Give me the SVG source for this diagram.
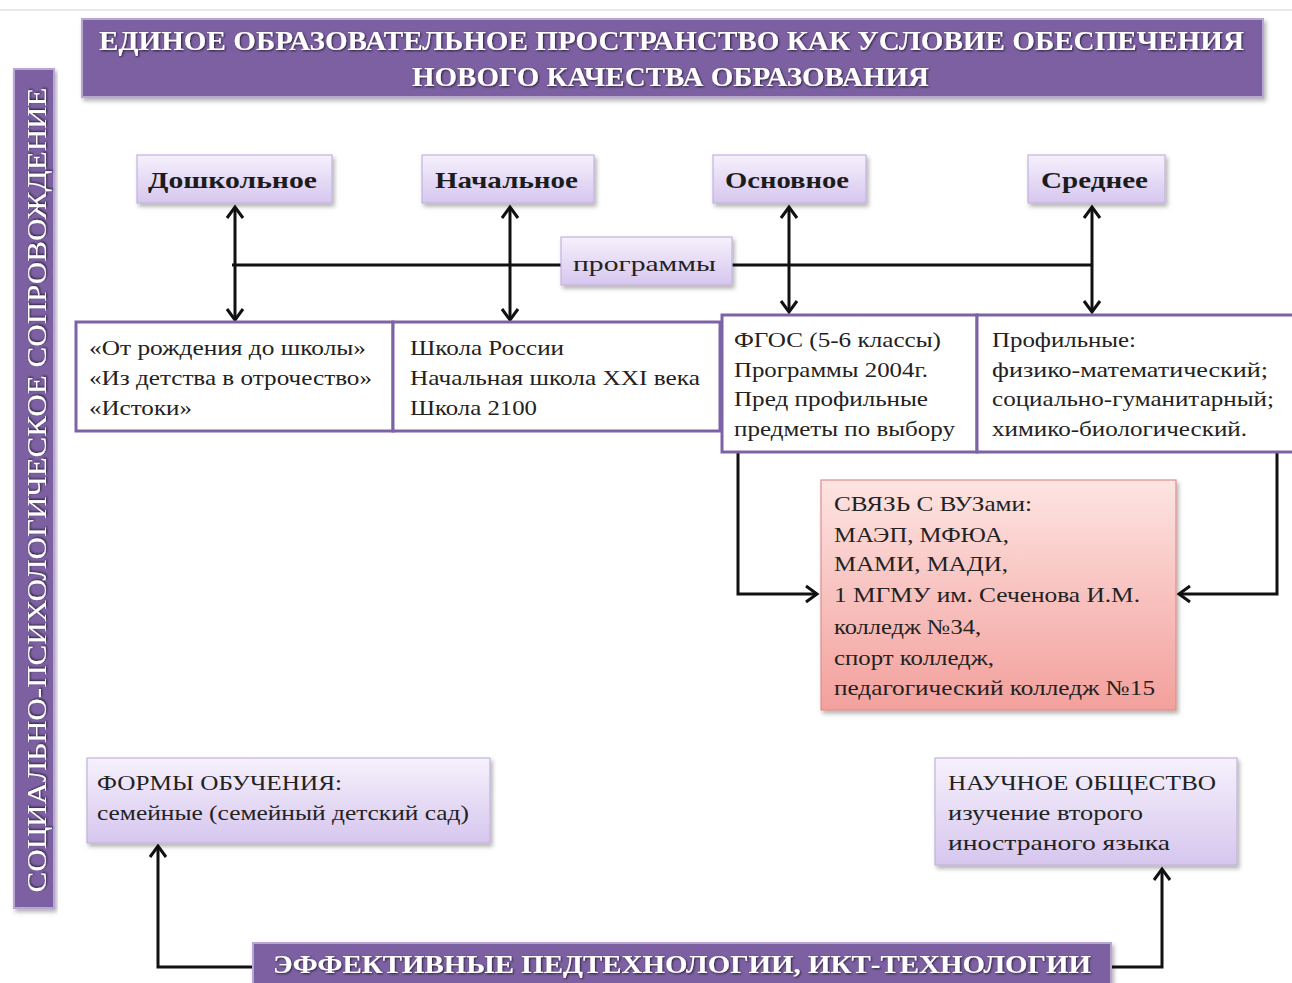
<svg xmlns="http://www.w3.org/2000/svg" width="1292" height="983" viewBox="0 0 1292 983">
<defs>
<style>
.t{font-family:"Liberation Serif","Times New Roman",serif;fill:#222;font-size:21px}
.b{font-weight:bold;font-size:24px;fill:#1c1c1c}
.w{font-family:"Liberation Serif","Times New Roman",serif;fill:#fff;font-weight:bold}
.wn{font-family:"Liberation Serif","Times New Roman",serif;fill:#fff;font-weight:normal}
.prog{fill:#fff;stroke:#7c63a6;stroke-width:3}
.lav{fill:url(#gLav);stroke:#c3b3dc;stroke-width:1.2}
.pur{fill:#7c60a2;stroke:#b8a6d6;stroke-width:2}
.ln{fill:none;stroke:#111;stroke-width:3}
</style>
<linearGradient id="gLav" x1="0" y1="0" x2="0" y2="1"><stop offset="0" stop-color="#f6f1fc"/><stop offset="1" stop-color="#d6c6ee"/></linearGradient>
<linearGradient id="gRed" x1="0" y1="0" x2="0" y2="1"><stop offset="0" stop-color="#fde4e2"/><stop offset="1" stop-color="#f3a09c"/></linearGradient>
<filter id="sh" x="-10%" y="-10%" width="120%" height="130%"><feDropShadow dx="2" dy="3" stdDeviation="2" flood-color="#000" flood-opacity="0.3"/></filter>
<filter id="tsh" x="-5%" y="-20%" width="110%" height="140%"><feDropShadow dx="1" dy="1" stdDeviation="0.8" flood-color="#000" flood-opacity="0.7"/></filter>
<marker id="ah" viewBox="-14 -10 17 20" refX="0" refY="0" markerWidth="17" markerHeight="20" markerUnits="userSpaceOnUse" orient="auto-start-reverse"><path d="M-11,-8 L0,0 L-11,8" fill="none" stroke="#111" stroke-width="3"/></marker>
</defs>
<rect width="1292" height="983" fill="#fff"/>
<line x1="0" y1="10" x2="1292" y2="10" stroke="#e2e2e2" stroke-width="1.5"/>

<g id="connectors">
<path class="ln" d="M232,265 L1092,265"/>
<path class="ln" d="M235,207 L235,320" marker-start="url(#ah)" marker-end="url(#ah)"/>
<path class="ln" d="M510,207 L510,320" marker-start="url(#ah)" marker-end="url(#ah)"/>
<path class="ln" d="M789,207 L789,312" marker-start="url(#ah)" marker-end="url(#ah)"/>
<path class="ln" d="M1092,207 L1092,312" marker-start="url(#ah)" marker-end="url(#ah)"/>
<path class="ln" d="M738,452 L738,594 L817,594" marker-end="url(#ah)"/>
<path class="ln" d="M1277,452 L1277,594 L1179,594" marker-end="url(#ah)"/>
<path class="ln" d="M253,967 L158,967 L158,846" marker-end="url(#ah)"/>
<path class="ln" d="M1111,967 L1162,967 L1162,869" marker-end="url(#ah)"/>
</g>

<g id="title">
<rect class="pur" x="82" y="19" width="1181" height="78" filter="url(#sh)"/>
<text class="w" x="99" y="50" font-size="27" textLength="1145" lengthAdjust="spacingAndGlyphs" filter="url(#tsh)">ЕДИНОЕ ОБРАЗОВАТЕЛЬНОЕ ПРОСТРАНСТВО КАК УСЛОВИЕ ОБЕСПЕЧЕНИЯ</text>
<text class="w" x="412" y="86" font-size="27" textLength="517" lengthAdjust="spacingAndGlyphs" filter="url(#tsh)">НОВОГО КАЧЕСТВА ОБРАЗОВАНИЯ</text>
</g>

<g id="side">
<rect class="pur" x="14" y="69" width="40" height="839" filter="url(#sh)"/>
<text class="wn" transform="translate(46,490) rotate(-90)" x="0" y="0" text-anchor="middle" font-size="28" textLength="805" lengthAdjust="spacingAndGlyphs" filter="url(#tsh)">СОЦИАЛЬНО-ПСИХОЛОГИЧЕСКОЕ  СОПРОВОЖДЕНИЕ</text>
</g>

<g id="lvl-doshk"><rect class="lav" x="137" y="155" width="195" height="48" filter="url(#sh)"/><text class="t b" x="148" y="188" textLength="169" lengthAdjust="spacingAndGlyphs">Дошкольное</text></g>
<g id="lvl-nach"><rect class="lav" x="422" y="155" width="172" height="48" filter="url(#sh)"/><text class="t b" x="435" y="188" textLength="143" lengthAdjust="spacingAndGlyphs">Начальное</text></g>
<g id="lvl-osn"><rect class="lav" x="713" y="155" width="153" height="48" filter="url(#sh)"/><text class="t b" x="725" y="188" textLength="124" lengthAdjust="spacingAndGlyphs">Основное</text></g>
<g id="lvl-sred"><rect class="lav" x="1028" y="155" width="137" height="48" filter="url(#sh)"/><text class="t b" x="1041" y="188" textLength="107" lengthAdjust="spacingAndGlyphs">Среднее</text></g>

<g id="programmy"><rect class="lav" x="561" y="237" width="171" height="48" filter="url(#sh)"/><text class="t" x="573" y="271" font-size="23" textLength="143" lengthAdjust="spacingAndGlyphs">программы</text></g>

<g id="prog1"><rect class="prog" x="76" y="322" width="317" height="109"/>
<text class="t" x="89" y="355" textLength="277" lengthAdjust="spacingAndGlyphs">«От рождения до школы»</text>
<text class="t" x="89" y="385" textLength="283" lengthAdjust="spacingAndGlyphs">«Из детства в отрочество»</text>
<text class="t" x="89" y="415" textLength="103" lengthAdjust="spacingAndGlyphs">«Истоки»</text></g>

<g id="prog2"><rect class="prog" x="393" y="322" width="327" height="109"/>
<text class="t" x="410" y="355" textLength="154" lengthAdjust="spacingAndGlyphs">Школа России</text>
<text class="t" x="410" y="385" textLength="290" lengthAdjust="spacingAndGlyphs">Начальная школа XXI века</text>
<text class="t" x="410" y="415" textLength="127" lengthAdjust="spacingAndGlyphs">Школа 2100</text></g>

<g id="prog3"><rect class="prog" x="722" y="315" width="255" height="137"/>
<text class="t" x="734" y="347" textLength="207" lengthAdjust="spacingAndGlyphs">ФГОС (5-6 классы)</text>
<text class="t" x="734" y="377" textLength="194" lengthAdjust="spacingAndGlyphs">Программы  2004г.</text>
<text class="t" x="734" y="406" textLength="194" lengthAdjust="spacingAndGlyphs">Пред профильные</text>
<text class="t" x="734" y="436" textLength="221" lengthAdjust="spacingAndGlyphs">предметы по выбору</text></g>

<g id="prog4"><rect class="prog" x="977" y="315" width="318" height="137"/>
<text class="t" x="992" y="347" textLength="144" lengthAdjust="spacingAndGlyphs">Профильные:</text>
<text class="t" x="992" y="377" textLength="276" lengthAdjust="spacingAndGlyphs">физико-математический;</text>
<text class="t" x="992" y="406" textLength="282" lengthAdjust="spacingAndGlyphs">социально-гуманитарный;</text>
<text class="t" x="992" y="436" textLength="255" lengthAdjust="spacingAndGlyphs">химико-биологический.</text></g>

<g id="vuz"><rect x="821" y="480" width="355" height="230" fill="url(#gRed)" stroke="#dc8f8b" stroke-width="1.2" filter="url(#sh)"/>
<text class="t" x="834" y="511" textLength="198" lengthAdjust="spacingAndGlyphs">СВЯЗЬ С ВУЗами:</text>
<text class="t" x="834" y="542" textLength="175" lengthAdjust="spacingAndGlyphs">МАЭП, МФЮА,</text>
<text class="t" x="834" y="571" textLength="174" lengthAdjust="spacingAndGlyphs">МАМИ, МАДИ,</text>
<text class="t" x="834" y="602" textLength="306" lengthAdjust="spacingAndGlyphs">1 МГМУ им. Сеченова И.М.</text>
<text class="t" x="834" y="634" textLength="147" lengthAdjust="spacingAndGlyphs">колледж №34,</text>
<text class="t" x="834" y="665" textLength="160" lengthAdjust="spacingAndGlyphs">спорт колледж,</text>
<text class="t" x="834" y="695" textLength="321" lengthAdjust="spacingAndGlyphs">педагогический колледж №15</text></g>

<g id="formy"><rect class="lav" x="87" y="758" width="403" height="85" filter="url(#sh)"/>
<text class="t" x="97" y="790" textLength="245" lengthAdjust="spacingAndGlyphs">ФОРМЫ ОБУЧЕНИЯ:</text>
<text class="t" x="97" y="820" textLength="372" lengthAdjust="spacingAndGlyphs">семейные (семейный детский сад)</text></g>

<g id="nauch"><rect class="lav" x="935" y="758" width="302" height="107" filter="url(#sh)"/>
<text class="t" x="948" y="790" textLength="268" lengthAdjust="spacingAndGlyphs">НАУЧНОЕ ОБЩЕСТВО</text>
<text class="t" x="948" y="820" textLength="195" lengthAdjust="spacingAndGlyphs">изучение второго</text>
<text class="t" x="948" y="850" textLength="222" lengthAdjust="spacingAndGlyphs">иностраного языка</text></g>

<g id="tech"><rect class="pur" x="253" y="943" width="858" height="50" filter="url(#sh)"/>
<text class="w" x="273" y="973" font-size="26" textLength="818" lengthAdjust="spacingAndGlyphs" filter="url(#tsh)">ЭФФЕКТИВНЫЕ ПЕДТЕХНОЛОГИИ, ИКТ-ТЕХНОЛОГИИ</text></g>
</svg>
